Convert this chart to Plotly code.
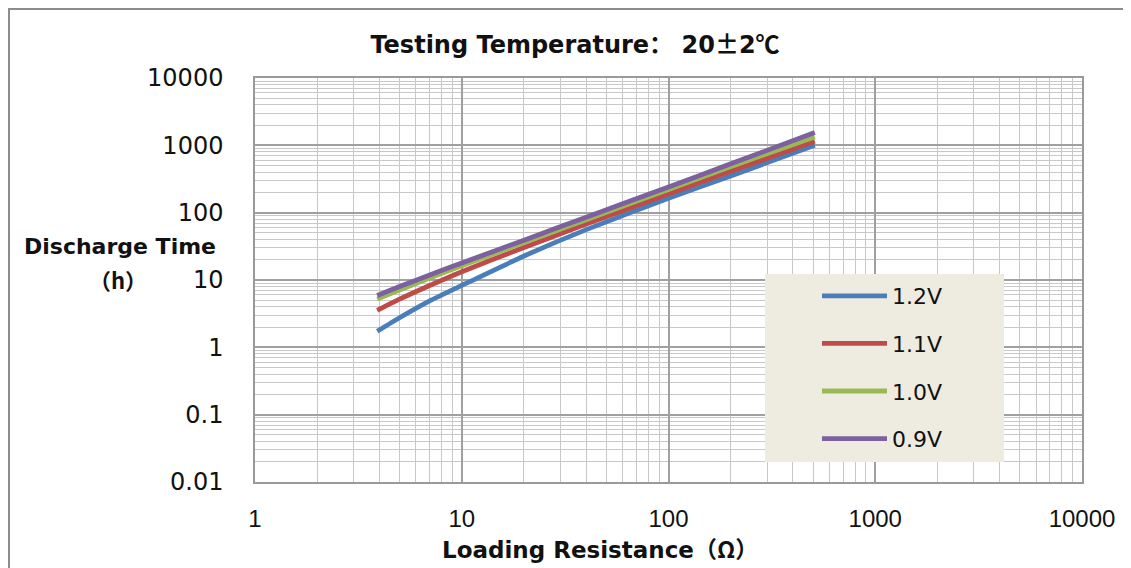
import plotly.graph_objects as go

# ---- data ----
resistance = [3.9, 5, 7, 10, 20, 40, 100, 200, 510]
series_names = ["1.2V", "1.1V", "1.0V", "0.9V"]
time_12v = [1.73, 2.75, 4.9, 8.3, 22.7, 56, 164, 351, 1000]
time_11v = [3.55, 5.2, 8.3, 13.3, 30.5, 67.6, 190, 411, 1153]
time_10v = [5.2, 7.1, 10.7, 16.3, 35.9, 78.5, 221, 484, 1333]
time_09v = [5.9, 8.0, 11.9, 17.9, 39.1, 85.5, 241, 531, 1549]
series_values = [time_12v, time_11v, time_10v, time_09v]
series_colors = ["#4a7ebb", "#be4b48", "#98b954", "#7d60a0"]

x_tickvals = [1, 10, 100, 1000, 10000]
x_ticktext = ["1", "10", "100", "1000", "10000"]
y_tickvals = [0.01, 0.1, 1, 10, 100, 1000, 10000]
y_ticktext = ["0.01", "0.1", "1", "10", "100", "1000", "10000"]

CJK = "font-family:Noto Sans CJK SC"
title_text = f"Testing Temperature<span style=\"{CJK}\">：</span> 20<span style=\"{CJK}\">±</span>2<span style=\"{CJK}\">℃</span>"
x_title = f"Loading Resistance<span style=\"{CJK}\">（Ω）</span>"
y_title_1 = "Discharge Time"
y_title_2 = "（h）"

# page offset (default body margin of the html page)
OFF = 8
W, H = 1131 - OFF, 568 - OFF
# plot area in page pixels: x 255..1082, y 78..482
L, T = 255 - OFF, 78 - OFF
R = W - (1082 - OFF)
B = H - (482 - OFF)
PW, PH = W - L - R, H - T - B

def px(xp):
    return (xp - OFF - L) / PW

def py(yp):
    return (H - B - (yp - OFF)) / PH

fig = go.Figure()
for i, (name, vals, col) in enumerate(zip(series_names, series_values, series_colors)):
    fig.add_trace(go.Scatter(
        x=resistance, y=vals, name=name, mode="lines",
        line=dict(color=col, width=4.8, shape="spline", smoothing=0.5),
        legendgroup=f"g{i}",
    ))

grid_major = "#a0a0a0"
grid_minor = "#c8c8c8"

fig.update_layout(
    width=W, height=H,
    margin=dict(l=L, r=R, t=T, b=B),
    paper_bgcolor="white", plot_bgcolor="white",
    font=dict(family="DejaVu Sans", color="#111111"),
    title=dict(text=f"<b>{title_text}</b>", x=(575 - OFF) / W, xref="container",
               y=1 - (45 - OFF) / H, yref="container", xanchor="center", yanchor="middle",
               font=dict(family="DejaVu Sans", size=24, color="#111111")),
    xaxis=dict(
        type="log", range=[0, 4], tickvals=x_tickvals, ticktext=x_ticktext,
        showgrid=True, gridcolor=grid_major, gridwidth=1.5,
        minor=dict(showgrid=True, gridcolor=grid_minor, gridwidth=1.4, dtick="D1"),
        showline=True, linecolor="#9a9a9a", linewidth=1.5, mirror=True,
        ticks="outside", ticklen=14, tickcolor="rgba(0,0,0,0)",
        tickfont=dict(family="Liberation Sans", size=24, color="#111111"),
        zeroline=False,
    ),
    yaxis=dict(
        type="log", range=[-2, 4], tickvals=y_tickvals, ticktext=y_ticktext,
        showgrid=True, gridcolor=grid_major, gridwidth=1.5,
        minor=dict(showgrid=True, gridcolor=grid_minor, gridwidth=1.4, dtick="D1"),
        showline=True, linecolor="#9a9a9a", linewidth=1.5, mirror=True,
        ticks="outside", ticklen=25, tickcolor="rgba(0,0,0,0)",
        tickfont=dict(family="DejaVu Sans", size=24, color="#111111"),
        zeroline=False,
    ),
    legend=dict(
        x=px(817), y=py(275), xanchor="left", yanchor="top",
        bgcolor="rgba(0,0,0,0)", borderwidth=0,
        font=dict(family="DejaVu Sans", size=22, color="#111111"),
        itemwidth=65, tracegroupgap=16,
    ),
    showlegend=True,
)

# legend background box
fig.add_shape(type="rect", xref="paper", yref="paper",
              x0=px(765), x1=px(1004), y0=py(462), y1=py(274),
              fillcolor="#eeece1", line=dict(width=0), layer="above")

# outer chart border
fig.add_shape(type="rect", xref="paper", yref="paper",
              x0=px(9), x1=px(1140), y0=py(580), y1=py(9),
              line=dict(color="#8c8c8c", width=2), fillcolor="rgba(0,0,0,0)",
              layer="below")

fig.add_annotation(text=f"<b>{x_title}</b>", xref="paper", yref="paper",
                   x=px(600), y=py(548), xanchor="center", yanchor="middle",
                   showarrow=False,
                   font=dict(family="DejaVu Sans", size=23, color="#111111"))
fig.add_annotation(text=f"<b>{y_title_1}</b>", xref="paper", yref="paper",
                   x=px(120), y=py(246), xanchor="center", yanchor="middle",
                   showarrow=False,
                   font=dict(family="DejaVu Sans", size=22, color="#111111"))
fig.add_annotation(text=f"<b>{y_title_2}</b>", xref="paper", yref="paper",
                   x=px(118), y=py(279), xanchor="center", yanchor="middle",
                   showarrow=False,
                   font=dict(family="Noto Sans CJK SC", size=22, color="#111111"))

fig.write_html("out.html")
